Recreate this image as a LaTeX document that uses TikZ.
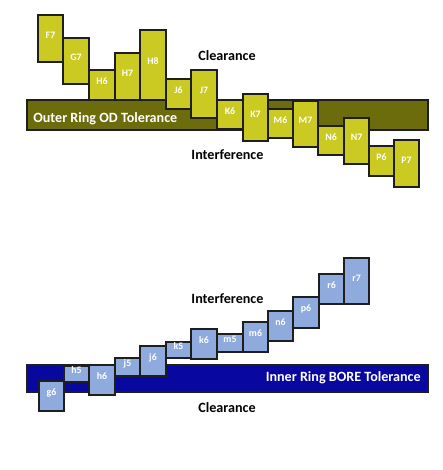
\documentclass[tikz,border=0pt]{standalone}
\usepackage{fontspec}
\setmainfont{Carlito}
\usetikzlibrary{fit}
\definecolor{yfill}{RGB}{202,202,34}
\definecolor{ofill}{RGB}{108,108,12}
\definecolor{bfill}{RGB}{143,170,220}
\definecolor{dfill}{RGB}{8,8,160}
\definecolor{edge}{RGB}{30,30,30}
\begin{document}
\begin{tikzpicture}[x=0.75pt,y=-0.75pt,
  box/.style={draw=edge, line width=1.1pt, inner sep=0pt, text=white,
    font=\bfseries\fontsize{7.4}{8}\selectfont},
  ybox/.style={box, fill=yfill},
  bbox/.style={box, fill=bfill},
  bar/.style={draw=edge, line width=0.8pt, inner sep=0pt},
  bartext/.style={text=white, inner sep=0pt, font=\bfseries\fontsize{10.6}{12}\selectfont},
  lbl/.style={text=black, inner sep=0pt, font=\bfseries\fontsize{10.6}{12}\selectfont}]
\useasboundingbox (0,0) rectangle (442,470);
% outer ring
\node[bar, fill=ofill, fit={(27,100)(428,130)}] (outerbar) {};
\node[bartext, anchor=west] (outerlabel) at (33,118.5) {Outer Ring OD Tolerance};
\node[ybox, fit={(38,15)(63,62)}] (F7) {F7};
\node[ybox, fit={(63,38)(89,84)}] (G7) {G7};
\node[ybox, fit={(89,70)(115,100)}] (H6) {H6};
\node[ybox, fit={(115,53)(140,100)}] (H7) {H7};
\node[ybox, fit={(140,30)(166,100)}] (H8) {H8};
\node[ybox, fit={(166,79)(191,109)}] (J6) {J6};
\node[ybox, fit={(191,70)(217,118)}] (J7) {J7};
\node[ybox, fit={(217,100)(243,129)}] (K6) {K6};
\node[ybox, fit={(243,94)(268,141)}] (K7) {K7};
\node[ybox, fit={(268,109)(293,138)}] (M6) {M6};
\node[ybox, fit={(293,101)(318,147)}] (M7) {M7};
\node[ybox, fit={(318,126)(344,155)}] (N6) {N6};
\node[ybox, fit={(344,118)(369,164)}] (N7) {N7};
\node[ybox, fit={(369,146)(394,176)}] (P6) {P6};
\node[ybox, fit={(394,140)(419,187)}] (P7) {P7};
\node[lbl] (clr1) at (227,56) {Clearance};
\node[lbl] (int1) at (227.5,155) {Interference};
% inner ring
\node[bar, fill=dfill, fit={(27,365)(428,392)}] (innerbar) {};
\node[bartext, anchor=east] (innerlabel) at (421,378) {Inner Ring BORE Tolerance};
\node[bbox, fit={(39,381)(64,411)}] (g6) {g6};
\node[bbox, fit={(64,366)(89,382)}] (h5) {h5};
\node[bbox, fit={(89,365)(115,395)}] (h6) {h6};
\node[bbox, fit={(115,358)(140,376)}] (j5) {j5};
\node[bbox, fit={(140,346)(166,376)}] (j6) {j6};
\node[bbox, fit={(166,342)(191,358)}] (k5) {k5};
\node[bbox, fit={(191,329)(217,359)}] (k6) {k6};
\node[bbox, fit={(217,334)(243,352)}] (m5) {m5};
\node[bbox, fit={(243,322)(268,352)}] (m6) {m6};
\node[bbox, fit={(268,311)(293,341)}] (n6) {n6};
\node[bbox, fit={(293,297)(319,328)}] (p6) {p6};
\node[bbox, fit={(319,274)(344,304)}] (r6) {r6};
\node[bbox, fit={(344,258)(369,304)}] (r7) {r7};
\node[lbl] (int2) at (227.5,299) {Interference};
\node[lbl] (clr2) at (227,408) {Clearance};
\end{tikzpicture}
\end{document}
